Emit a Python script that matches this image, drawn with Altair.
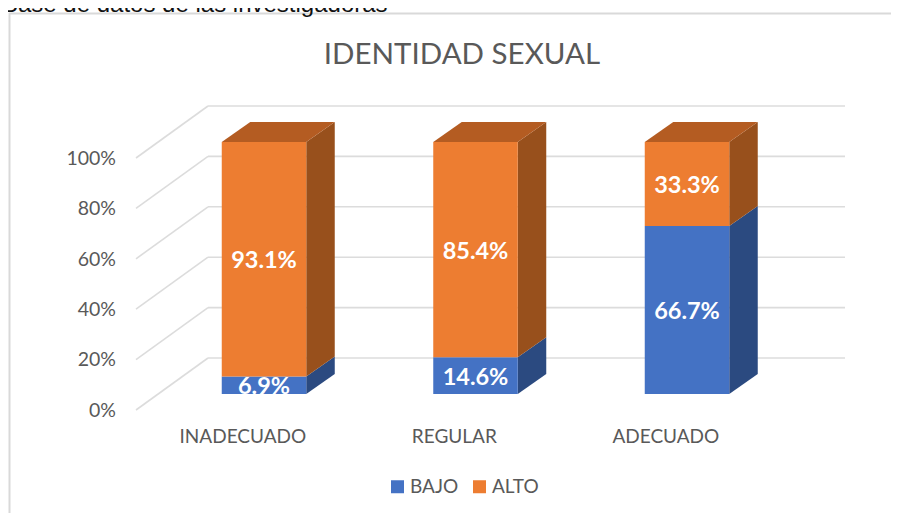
import altair as alt
import pandas as pd

# ---- values
categories = ["INADECUADO", "REGULAR", "ADECUADO"]
bajo = [6.9, 14.6, 66.7]
alto = [93.1, 85.4, 33.3]
ticks = [0, 20, 40, 60, 80, 100]
series = ["BAJO", "ALTO"]

# ---- layout (x unit = one category, y unit = one percentage point on the bars' front plane)
PX_X, PX_Y = 211.5, 2.52
ux = lambda px: (px - 264) / PX_X
uy = lambda py: (394 - py) / PX_Y
BAR_W = 84.5 / PX_X
DX, DY = 28.5 / PX_X, 20 / PX_Y
GRID_X0, GRID_X1, GRID_X2 = ux(136), ux(208), ux(845)
GRID_Y0, GRID_Y1 = -16 / PX_Y, 36 / PX_Y
WIDTH, HEIGHT = 883, 505
x_scale = alt.Scale(domain=[ux(8), ux(891)], nice=False, zero=False)
y_scale = alt.Scale(domain=[uy(513), uy(8)], nice=False, zero=False)
X = lambda f="x": alt.X(f"{f}:Q", scale=x_scale, axis=None)
Y = lambda f="y": alt.Y(f"{f}:Q", scale=y_scale, axis=None)
X2 = alt.X2("x2:Q")
Y2 = alt.Y2("y2:Q")

GREY = "#595959"
GRID = "#DCDCDC"
FRONT = ["#4472C4", "#ED7D31"]
SIDE = ["#2B4A80", "#98501C"]
TOP = "#B45C22"
FONT = "Lato"

# ---- tables derived from the values
front, side, top, labels = [], [], [], []
for i, cat in enumerate(categories):
    l, r = i - BAR_W / 2, i + BAR_W / 2
    lo = 0
    for s, v in zip(series, (bajo[i], alto[i])):
        hi = lo + v
        front.append(dict(x=l, x2=r, y=lo, y2=hi, series=s))
        side.append(dict(x=r, y=lo, y2=hi, series=s, seg=f"{i}{s}"))
        side.append(dict(x=r + DX, y=lo + DY, y2=hi + DY, series=s, seg=f"{i}{s}"))
        labels.append(dict(x=i, y=(lo + hi) / 2, t=f"{v:.1f}%"))
        lo = hi
    for x, y, y2 in [(l, lo, lo), (l + DX, lo, lo + DY), (r, lo, lo + DY), (r + DX, lo + DY, lo + DY)]:
        top.append(dict(x=x, y=y, y2=y2, seg=i))

grid_back = pd.DataFrame([dict(x=GRID_X1, x2=GRID_X2, y=t + GRID_Y1) for t in ticks])
grid_diag = pd.DataFrame([dict(x=GRID_X0, x2=GRID_X1, y=t + GRID_Y0, y2=t + GRID_Y1) for t in ticks])
frame_h = pd.DataFrame([dict(x=ux(9), x2=ux(899), y=uy(13.5))])
frame_v = pd.DataFrame([dict(x=ux(9.5), y=uy(13), y2=uy(513))])

rule = alt.Chart(grid_back).mark_rule(color=GRID, strokeWidth=1.6).encode(X(), X2, Y())
diag = alt.Chart(grid_diag).mark_rule(color=GRID, strokeWidth=1.6).encode(X(), X2, Y(), Y2)
fh = alt.Chart(frame_h).mark_rule(color="#D9D9D9", strokeWidth=2).encode(X(), X2, Y())
fv = alt.Chart(frame_v).mark_rule(color="#D9D9D9", strokeWidth=2).encode(X(), Y(), Y2)

side_l = alt.Chart(pd.DataFrame(side)).mark_area(orient="vertical").encode(
    X(), Y(), Y2, detail="seg:N",
    color=alt.Color("series:N", scale=alt.Scale(domain=series, range=SIDE), legend=None),
)
top_l = alt.Chart(pd.DataFrame(top)).mark_area(orient="vertical", color=TOP).encode(
    X(), Y(), Y2, detail="seg:N",
)
front_l = alt.Chart(pd.DataFrame(front)).mark_rect().encode(
    X(), X2, Y(), Y2,
    color=alt.Color(
        "series:N",
        scale=alt.Scale(domain=series, range=FRONT),
        legend=alt.Legend(
            title=None, orient="none", legendX=380, legendY=469, direction="horizontal",
            symbolType="square", symbolSize=169, symbolStrokeWidth=0,
            labelFont=FONT, labelFontSize=19, labelColor=GREY, labelOffset=3,
            columnPadding=11,
        ),
    ),
)

val_l = alt.Chart(pd.DataFrame(labels)).mark_text(
    font=FONT, fontSize=23.5, fontWeight="bold", color="white", baseline="middle", align="center", dy=2
).encode(X(), Y(), text="t:N")

ytick_l = alt.Chart(pd.DataFrame([dict(x=ux(116), y=t + GRID_Y0 + 0.3, t=f"{t}%") for t in ticks])).mark_text(
    font=FONT, fontSize=19.5, color=GREY, baseline="middle", align="right", dy=1.5
).encode(X(), Y(), text="t:N")

xcat_l = alt.Chart(pd.DataFrame([dict(x=i - 0.1, y=uy(437), t=c) for i, c in enumerate(categories)])).mark_text(
    font=FONT, fontSize=19, color=GREY, baseline="middle", align="center"
).encode(X(), Y(), text="t:N")

title_l = alt.Chart(pd.DataFrame([dict(x=ux(462), y=uy(55), t="IDENTIDAD SEXUAL")])).mark_text(
    font=FONT, fontSize=29.5, color=GREY, baseline="middle", align="center"
).encode(X(), Y(), text="t:N")

caption_l = alt.Chart(pd.DataFrame([dict(x=ux(2), y=uy(12), t="Base de datos de las investigadoras")])).mark_text(
    font="Liberation Sans", fontSize=24, color="#111111", baseline="alphabetic", align="left"
).encode(X(), Y(), text="t:N")

chart = (
    alt.layer(fh, fv, rule, diag, side_l, top_l, front_l, val_l, ytick_l, xcat_l, title_l, caption_l)
    .resolve_scale(color="independent")
    .properties(width=WIDTH, height=HEIGHT, padding=0, autosize=alt.AutoSizeParams(type="none"), background="white")
    .configure_view(stroke=None)
)
chart.save("out.html", embed_options={"renderer": "svg", "actions": False})
